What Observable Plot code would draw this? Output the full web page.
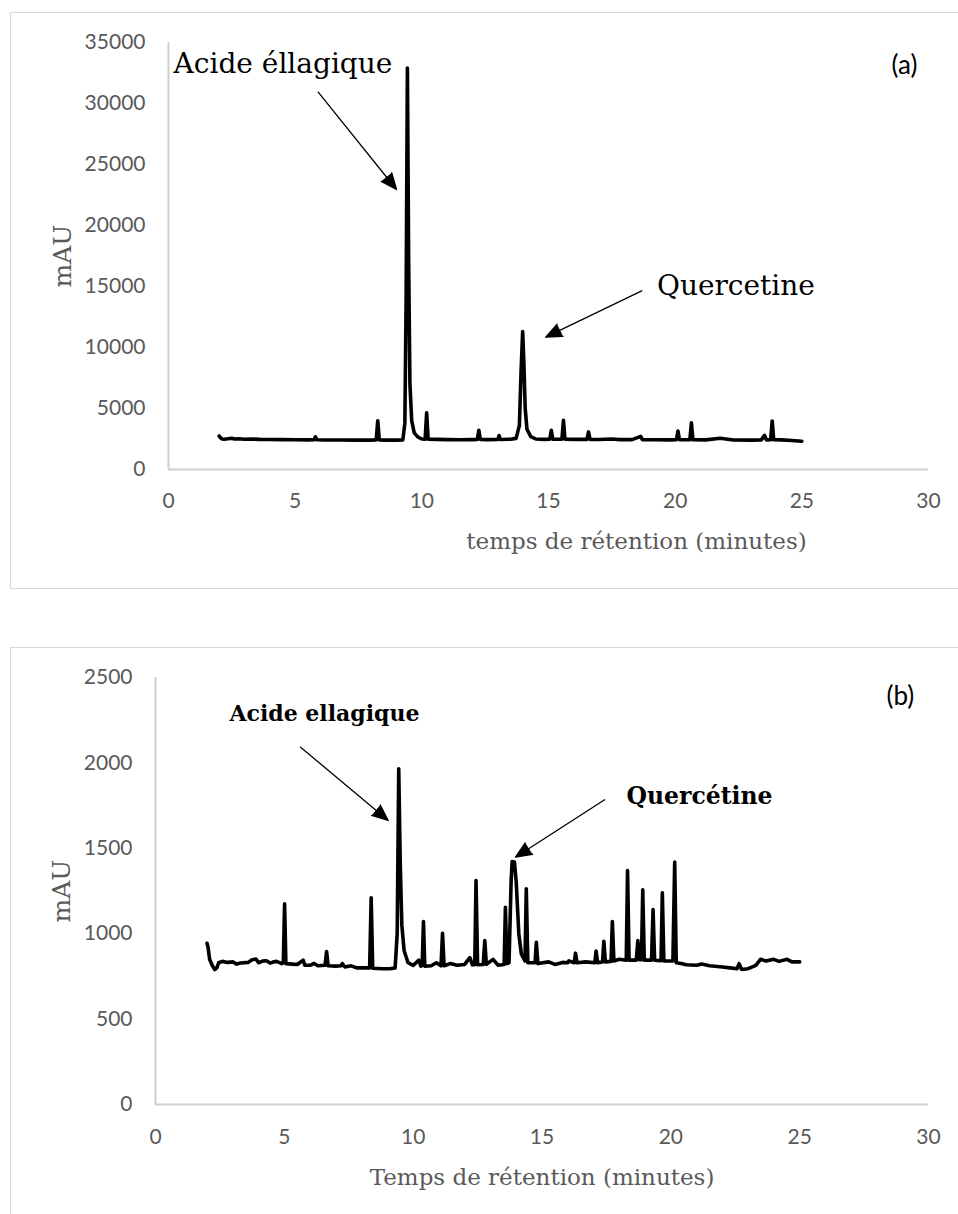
<!DOCTYPE html>
<html>
<head>
<meta charset="utf-8">
<script src="https://cdn.jsdelivr.net/npm/d3@7"></script>
<script src="https://cdn.jsdelivr.net/npm/@observablehq/plot@0.6"></script>
<style>
  html, body { margin: 0; padding: 0; background: #fff; }
  body { width: 958px; height: 1214px; position: relative; overflow: hidden; }
  .chart { position: absolute; left: 0; }
  .frame { position: absolute; border: 1.5px solid #d9d9d9; pointer-events: none; background: transparent; }
</style>
</head>
<body>
<div id="chartA" class="chart" style="top:0px"></div>
<div id="chartB" class="chart" style="top:640px"></div>
<div class="frame" style="left:10px; top:12px; width:960px; height:575px;"></div>
<div class="frame" style="left:10px; top:647px; width:960px; height:700px;"></div>
<script>
// ---------- Panel (a) chromatogram: retention time (min) and absorbance (mAU)
const timeA = [2.00,2.05,2.12,2.20,2.35,2.50,2.60,2.80,3.00,3.30,3.60,4.00,4.50,5.00,5.50,5.75,5.80,5.85,6.20,6.80,7.40,8.00,8.20,8.26,8.32,8.60,9.00,9.25,9.33,9.38,9.43,9.48,9.53,9.60,9.70,9.85,10.00,10.13,10.19,10.25,10.60,11.00,11.50,12.00,12.19,12.25,12.31,12.60,13.00,13.05,13.10,13.50,13.72,13.85,13.92,13.98,14.03,14.08,14.15,14.30,14.50,14.80,15.05,15.11,15.17,15.53,15.59,15.65,16.00,16.52,16.58,16.64,17.00,17.50,17.80,18.30,18.64,18.70,19.20,19.80,20.05,20.11,20.17,20.58,20.64,20.70,21.20,21.78,22.30,23.00,23.40,23.53,23.60,23.77,23.83,23.89,24.20,24.60,25.00];
const mauA  = [2750,2600,2500,2480,2520,2560,2500,2520,2480,2500,2470,2460,2450,2440,2430,2440,2680,2440,2420,2420,2410,2410,2420,4000,2420,2410,2410,2430,3800,14000,32900,17000,7000,4000,3000,2650,2500,2480,4650,2480,2470,2450,2440,2450,2460,3220,2460,2450,2460,2780,2460,2480,2550,3600,8200,11300,8600,5000,3300,2700,2500,2470,2480,3220,2480,2490,4030,2490,2470,2470,3080,2470,2460,2500,2450,2450,2720,2450,2440,2430,2440,3160,2440,2440,3820,2440,2430,2560,2420,2410,2430,2800,2430,2440,3980,2440,2430,2380,2320];

// ---------- Panel (b) chromatogram
const timeB = [2.00,2.04,2.10,2.20,2.30,2.38,2.45,2.60,2.80,3.00,3.15,3.30,3.60,3.75,3.90,4.00,4.15,4.30,4.45,4.60,4.70,4.90,4.96,5.01,5.06,5.30,5.50,5.73,5.80,6.00,6.15,6.30,6.58,6.64,6.70,7.00,7.20,7.25,7.35,7.60,7.80,8.10,8.31,8.37,8.43,8.80,9.10,9.30,9.38,9.44,9.50,9.56,9.65,9.80,10.00,10.22,10.30,10.35,10.40,10.45,10.70,10.90,11.08,11.14,11.20,11.44,11.70,12.00,12.20,12.30,12.39,12.44,12.50,12.72,12.78,12.84,13.10,13.30,13.53,13.58,13.64,13.72,13.80,13.84,13.93,14.00,14.10,14.20,14.34,14.39,14.45,14.73,14.78,14.84,15.26,15.50,15.80,16.00,16.04,16.25,16.30,16.36,16.70,17.05,17.10,17.16,17.35,17.40,17.46,17.68,17.73,17.79,18.00,18.27,18.32,18.38,18.66,18.72,18.78,18.86,18.91,18.97,19.25,19.31,19.37,19.62,19.67,19.73,20.08,20.15,20.21,20.40,20.60,21.00,21.20,21.50,22.00,22.30,22.57,22.65,22.75,23.00,23.30,23.48,23.70,23.99,24.20,24.51,24.70,25.00];
const mauB  = [944,920,850,815,790,800,830,838,832,835,822,828,832,848,852,830,840,842,828,836,838,825,830,1175,825,822,820,845,815,815,826,812,815,896,812,810,812,825,805,812,800,800,800,1210,798,795,795,800,1000,1965,1400,1050,900,830,815,845,810,815,1071,810,812,830,812,1003,812,825,815,820,860,818,818,1311,818,820,960,820,850,815,820,1155,825,830,1300,1423,1420,1300,1000,880,840,1263,830,830,950,825,835,820,832,830,841,830,886,830,835,830,898,830,835,956,835,838,1071,840,850,845,1370,845,845,960,848,848,1257,845,845,1142,845,842,1239,840,840,1419,830,826,818,815,822,812,805,800,795,825,790,795,815,850,840,850,838,850,835,835];

// ---------- Axis ticks
const ticksX  = [0, 5, 10, 15, 20, 25, 30];
const ticksYA = [0, 5000, 10000, 15000, 20000, 25000, 30000, 35000];
const ticksYB = [0, 500, 1000, 1500, 2000, 2500];

// ---------- Annotations (data coordinates)
const labelsA = [
  {text: "Acide éllagique", t: 0.2,   v: 33197},
  {text: "Quercetine",      t: 19.28, v: 15000}
];
const arrowsA = [
  {t1: 5.91,  v1: 30926, t2: 9.00,  v2: 22951},
  {t1: 18.68, v1: 14648, t2: 14.89, v2: 10844}
];
const tagA = {text: "(a)", t: 29.05, v: 33115};

const labelsB = [
  {text: "Acide ellagique", t: 2.87,  v: 2287, size: 22},
  {text: "Quercétine",      t: 18.28, v: 1803, size: 23.5}
];
const arrowsB = [
  {t1: 5.63,  v1: 2092, t2: 9.03,  v2: 1663},
  {t1: 17.43, v1: 1784, t2: 13.97, v2: 1448}
];
const tagB = {text: "(b)", t: 28.91, v: 2389};

const xTitleA = "temps de rétention (minutes)";
const xTitleB = "Temps de rétention (minutes)";
const yTitle = "mAU";

function zip(ts, vs) { return ts.map((t, i) => ({t, v: vs[i]})); }

function chromatogram(o) {
  return Plot.plot({
    width: 958,
    height: o.height,
    marginLeft: o.ml, marginRight: 30, marginTop: o.mt, marginBottom: o.mb,
    style: {fontFamily: "Lato, 'Open Sans', sans-serif", fontSize: "21px", color: "#595959", background: "none", overflow: "visible"},
    x: {domain: [0, 30], ticks: ticksX, tickSize: 0, tickPadding: o.xpad, tickFormat: "d", label: null},
    y: {domain: o.ydomain, ticks: o.yticks, tickSize: 0, tickPadding: 23, tickFormat: "d", label: null},
    marks: [
      Plot.ruleY([0], {stroke: "#d0d0d0", strokeWidth: 2}),
      Plot.ruleX([0], {stroke: "#d0d0d0", strokeWidth: 2}),
      Plot.line(o.data, {x: "t", y: "v", stroke: "black", strokeWidth: 3.6, strokeLinejoin: "round", strokeLinecap: "round"}),
      Plot.arrow(o.arrows, {x1: "t1", y1: "v1", x2: "t2", y2: "v2", stroke: "black", fill: "black", strokeWidth: 1.3, headLength: 20, headAngle: 46}),
      Plot.text(o.labels, {x: "t", y: "v", text: "text", textAnchor: "start", lineAnchor: "middle", fill: "black",
        fontFamily: "'DejaVu Serif', serif", fontSize: o.labelSize, fontWeight: o.labelWeight}),
      Plot.text([o.tag], {x: "t", y: "v", text: "text", textAnchor: "middle", lineAnchor: "middle", fill: "black",
        fontFamily: "Lato, sans-serif", fontSize: 26}),
      Plot.text([o.xTitle], {frameAnchor: "bottom", text: d => d, dx: o.xdx, dy: o.xdy, lineAnchor: "middle", textAnchor: "middle",
        fill: "#595959", fontFamily: "'DejaVu Serif', serif", fontSize: 23}),
      Plot.text([yTitle], {frameAnchor: "left", text: d => d, dx: o.ydx, rotate: -90, lineAnchor: "middle", textAnchor: "middle",
        fill: "#595959", fontFamily: "'DejaVu Serif', serif", fontSize: 25})
    ]
  });
}

document.getElementById("chartA").append(chromatogram({
  height: 600, ml: 168, mt: 42, mb: 131, xpad: 24,
  ydomain: [0, 35000], yticks: ticksYA,
  data: zip(timeA, mauA), arrows: arrowsA, labels: labelsA, tag: tagA,
  labelSize: 28, labelWeight: "normal",
  xTitle: xTitleA, xdx: 88, xdy: 72, ydx: -106
}));

document.getElementById("chartB").append(chromatogram({
  height: 574, ml: 155, mt: 37, mb: 110, xpad: 25,
  ydomain: [0, 2500], yticks: ticksYB,
  data: zip(timeB, mauB), arrows: arrowsB, labels: labelsB, tag: tagB,
  labelSize: d => d.size, labelWeight: "bold",
  xTitle: xTitleB, xdx: 0, xdy: 73, ydx: -94
}));
</script>
</body>
</html>
